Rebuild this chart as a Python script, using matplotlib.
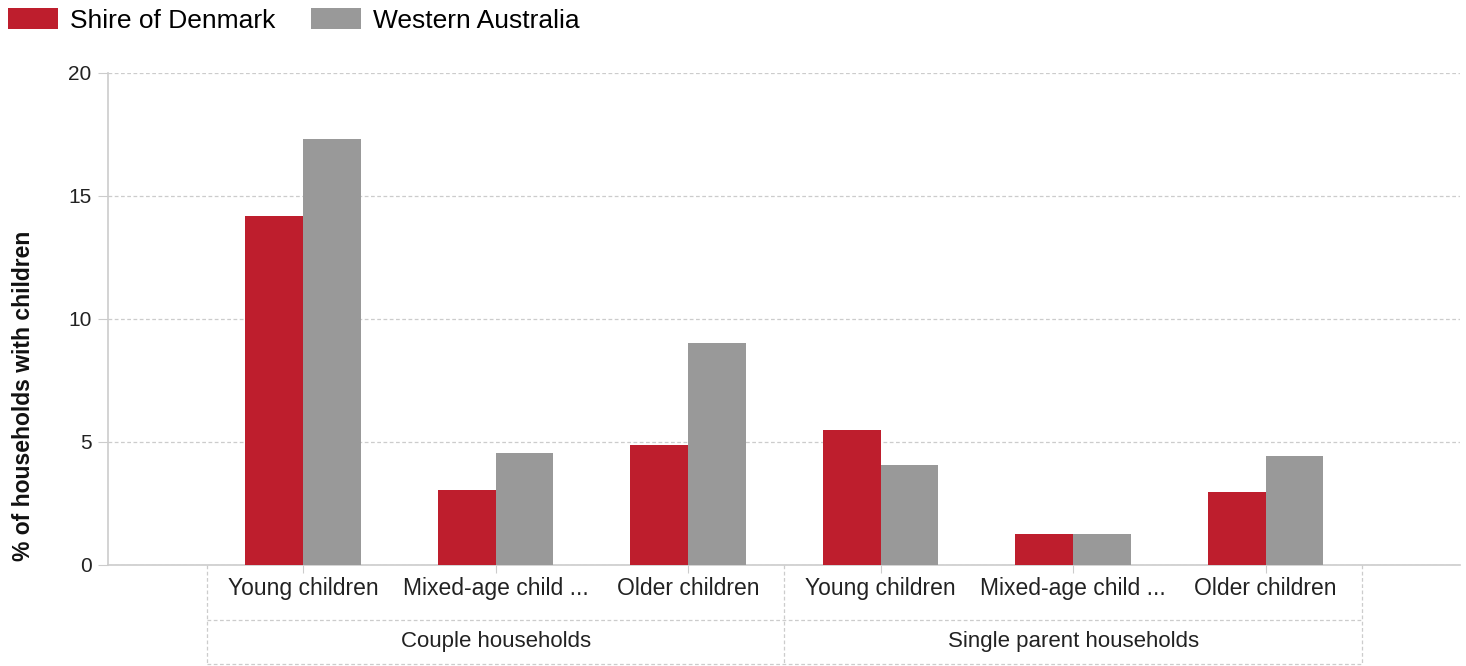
import matplotlib.pyplot as plt
import numpy as np

plt.rcParams['font.family'] = ['Liberation Sans', 'DejaVu Sans']

groups = ["Couple households", "Single parent households"]
categories = ["Young children", "Mixed-age child ...", "Older children",
              "Young children", "Mixed-age child ...", "Older children"]
denmark = [14.2, 3.05, 4.88, 5.47, 1.24, 2.97]
wa = [17.33, 4.54, 9.03, 4.05, 1.24, 4.44]
yticks = [0, 5, 10, 15, 20]

red = "#BE1E2D"
grey = "#999999"
light = "#cccccc"

fig = plt.figure(figsize=(14.66, 6.66), dpi=100)
ax = fig.add_axes([0.0737, 0.1517, 0.9223, 0.7387])

x = np.arange(len(categories))
w = 0.3
ax.bar(x - w / 2, denmark, w, color=red, label="Shire of Denmark", zorder=3)
ax.bar(x + w / 2, wa, w, color=grey, label="Western Australia", zorder=3)

ax.set_xlim(-1.013, 6.01)
ax.set_ylim(0, 20)
ax.set_yticks(yticks)
ax.yaxis.grid(True, color=light, linestyle=(0, (3, 2)), linewidth=0.9)
ax.set_axisbelow(True)

for s in ["top", "right"]:
    ax.spines[s].set_visible(False)
ax.spines["left"].set_color(light)
ax.spines["bottom"].set_color(light)
ax.spines["left"].set_linewidth(1.2)
ax.spines["bottom"].set_linewidth(1.2)

ax.tick_params(axis="y", length=7, color=light, labelsize=15, pad=5, labelcolor="#222222")
ax.set_xticks(x)
ax.set_xticklabels([])
ax.tick_params(axis="x", length=6, color=light)

# two-level category labels
tr = ax.get_xaxis_transform()
for i, lab in enumerate(categories):
    ax.text(i, -0.047, lab, transform=tr, ha="center", va="center",
            fontsize=16.5, color="#222222")
for g, lab in enumerate(groups):
    ax.text(g * 3 + 1, -0.155, lab, transform=tr, ha="center", va="center",
            fontsize=16, color="#222222")

dash = dict(color=light, linestyle=(0, (3, 2)), linewidth=0.9, transform=tr, clip_on=False)
for sep in [-0.5, 2.5, 5.5]:
    ax.plot([sep, sep], [0, -0.201], **dash)
ax.plot([-0.5, 5.5], [-0.112, -0.112], **dash)
ax.plot([-0.5, 5.5], [-0.201, -0.201], **dash)

fig.text(0.016, 0.405, "% of households with children", rotation=90,
         ha="center", va="center", fontsize=16.5, fontweight="bold", color="#111111")

fig.legend(loc="upper left", bbox_to_anchor=(0.0055, 0.988), ncol=2, frameon=False,
           fontsize=19, handlelength=1.9, handleheight=0.85, handletextpad=0.45,
           columnspacing=1.35, borderpad=0, borderaxespad=0)

fig.savefig("out.png", dpi=100)
